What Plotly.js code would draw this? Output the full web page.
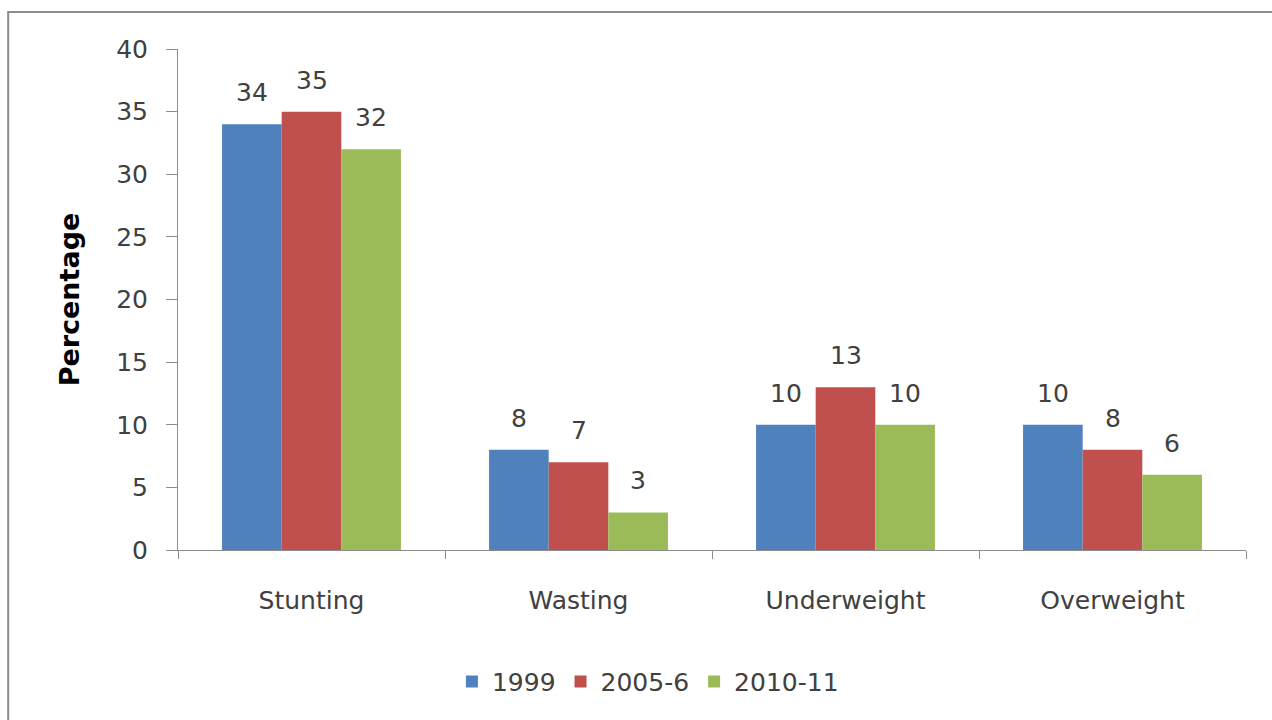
<!DOCTYPE html>
<html>
<head>
<meta charset="utf-8">
<script src="https://cdn.plot.ly/plotly-3.0.1.min.js"></script>
<style>
  html, body { margin: 0; padding: 0; background: #ffffff; }
  #chart { width: 1272px; height: 720px; }
</style>
</head>
<body>
<div id="chart"></div>
<script>
// Child nutrition indicators by survey round
const categories = ["Stunting", "Wasting", "Underweight", "Overweight"];
const seriesNames = ["1999", "2005-6", "2010-11"];
const values1999 = [34, 8, 10, 10];
const values2005 = [35, 7, 13, 8];
const values2010 = [32, 3, 10, 6];
const seriesValues = [values1999, values2005, values2010];
const seriesColors = ["#4F81BD", "#C0504D", "#9BBB59"];
const yTicks = [0, 5, 10, 15, 20, 25, 30, 35, 40];

const textColor = "#404040";
const fontFamily = "DejaVu Sans, sans-serif";
const barGap = 0.33;

const traces = seriesNames.map((name, j) => ({
  type: "bar",
  name: name,
  x: categories,
  y: seriesValues[j],
  marker: { color: seriesColors[j], line: { width: 0 } },
  hoverinfo: "x+y+name"
}));

// value labels above each bar, centred on the bar slot of its series
const slot = (1 - barGap) / seriesNames.length;
const annotations = [];
seriesValues.forEach((vals, j) => {
  vals.forEach((v, i) => {
    annotations.push({
      x: i + (j - (seriesNames.length - 1) / 2) * slot,
      y: v,
      xref: "x", yref: "y",
      text: String(v),
      showarrow: false,
      xanchor: "center",
      yanchor: "bottom",
      yshift: 15,
      font: { family: fontFamily, size: 25, color: textColor }
    });
  });
});

const layout = {
  width: 1272,
  height: 720,
  margin: { l: 178, r: 26, t: 49, b: 170 },
  paper_bgcolor: "#ffffff",
  plot_bgcolor: "#ffffff",
  barmode: "group",
  bargap: barGap,
  bargroupgap: 0,
  font: { family: fontFamily, size: 25, color: textColor },
  xaxis: {
    type: "category",
    range: [-0.5, categories.length - 0.5],
    showline: true,
    linecolor: "#8c8c8c",
    linewidth: 1,
    ticks: "outside",
    tickson: "boundaries",
    ticklen: 8,
    tickcolor: "#8c8c8c",
    ticklabelstandoff: 28,
    showgrid: false,
    zeroline: false,
    tickfont: { family: fontFamily, size: 25, color: textColor },
    fixedrange: true
  },
  yaxis: {
    range: [0, 40],
    tickvals: yTicks,
    ticktext: yTicks.map(String),
    showline: true,
    linecolor: "#8c8c8c",
    linewidth: 1,
    ticks: "outside",
    ticklen: 11,
    tickcolor: "#8c8c8c",
    ticklabelstandoff: 13,
    showgrid: false,
    zeroline: false,
    tickfont: { family: fontFamily, size: 25, color: textColor },
    title: {
      text: "Percentage",
      font: { family: fontFamily, size: 27, color: "#000000", weight: "bold" },
      standoff: 28
    },
    fixedrange: true
  },
  legend: {
    orientation: "h",
    x: 0.44,
    xanchor: "center",
    y: -0.263,
    yanchor: "middle",
    font: { family: fontFamily, size: 25, color: textColor },
    bgcolor: "rgba(0,0,0,0)"
  },
  annotations: annotations,
  shapes: [{
    type: "rect",
    xref: "paper", yref: "paper",
    x0: -0.159, x1: 1.2,
    y0: -0.6, y1: 1.074,
    line: { color: "#8c8c8c", width: 2 },
    fillcolor: "rgba(0,0,0,0)",
    layer: "below"
  }],
  showlegend: true
};

Plotly.newPlot("chart", traces, layout, { displayModeBar: false, staticPlot: true });
</script>
</body>
</html>
